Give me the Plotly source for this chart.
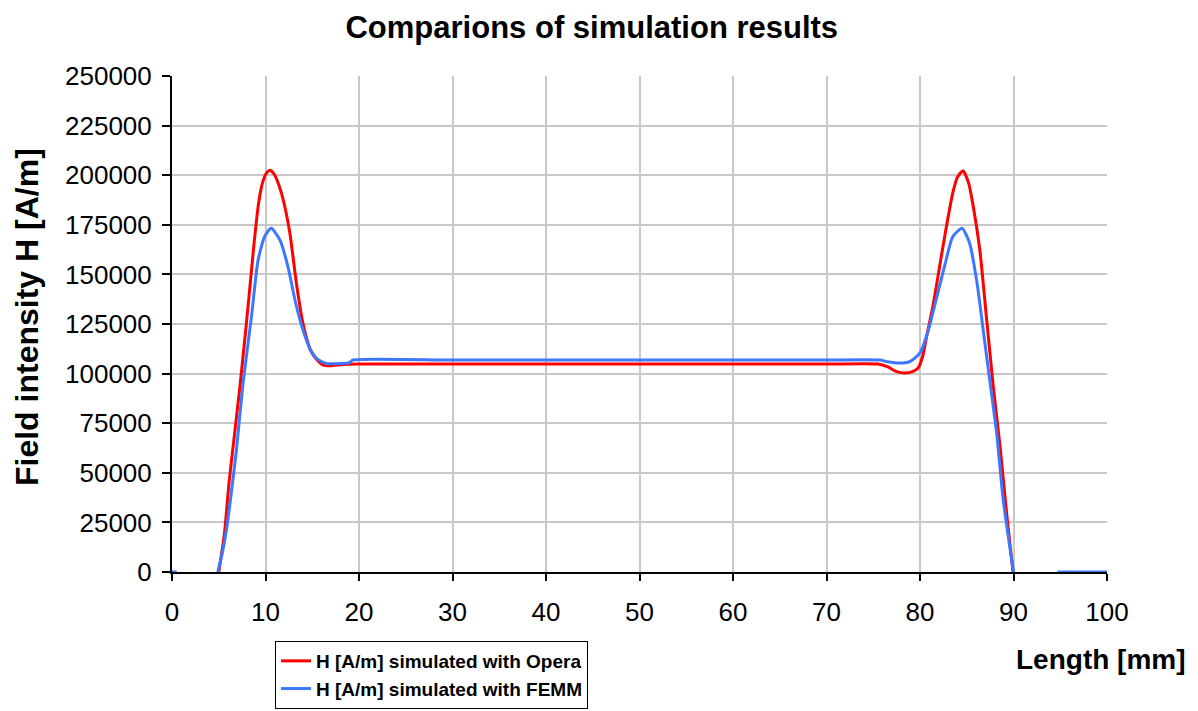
import plotly.graph_objects as go

# Opera simulation: field intensity along the length
opera_x = [5.0, 5.6, 6.1, 6.7, 7.3, 7.8, 8.2, 8.7, 9.1, 9.4, 9.7, 10.1, 10.5, 11.0, 11.5,
           11.9, 12.6, 13.3, 14.0, 14.8, 15.5, 16.2, 17.0, 18.0, 20.0, 30.0, 40.0, 50.0,
           60.0, 70.0, 75.5, 76.5, 77.5, 78.4, 79.2, 79.8, 80.3, 80.7, 81.3, 81.8, 82.7,
           83.5, 84.0, 84.6, 85.2, 85.7, 86.4, 87.1, 87.8, 88.6, 89.3, 89.95]
opera_h = [0, 19000, 45000, 70000, 95000, 118000, 137000, 162000, 180000, 190000, 196500,
           201000, 202500, 200000, 194000, 187500, 171000, 145700, 125500, 112000, 107000,
           104300, 104000, 104500, 104800, 104800, 104800, 104800, 104800, 104800, 104800,
           103500, 101000, 100300, 101000, 102800, 109000, 118600, 132000, 145600, 170800,
           191000, 199000, 202300, 196000, 184100, 162300, 128700, 95200, 61500, 27900, 0]

# FEMM simulation: field intensity along the length
femm_x = [0.0, 0.5, None, 4.9, 5.4, 5.85, 6.5, 6.9, 7.6, 8.5, 9.2, 9.9, 10.6, 11.55, 12.4,
          13.15, 13.9, 14.8, 15.4, 16.0, 16.6, 17.5, 18.5, 19.0, 19.3, 30.0, 40.0, 50.0,
          60.0, 70.0, 75.7, 76.5, 77.7, 78.9, 80.0, 80.9, 81.8, 82.7, 83.5, 84.5, 85.3,
          86.1, 86.8, 87.5, 88.2, 88.9, 90.0, None, 94.7, 100.0]
femm_h = [0, 0, None, 0, 10000, 22000, 46000, 62000, 95200, 128700, 157000, 169000, 173200,
          167300, 153900, 137100, 123600, 112000, 108000, 106000, 105000, 105000, 105200,
          105500, 106800, 106800, 106800, 106800, 106800, 106800, 106800,
          106000, 105300, 106000, 110400, 122000, 138700, 155500, 169000, 173200, 165800,
          145600, 120400, 95200, 70000, 36300, 0, None, 0, 0]

x_ticks = list(range(0, 101, 10))
y_ticks = list(range(0, 250001, 25000))

# plot area in pixels (left, right, top, bottom)
PX_L, PX_R, PX_T, PX_B = 172, 1107, 76, 572
W, H = 1198, 711


def paper_x(px):
    return (px - PX_L) / (PX_R - PX_L)


def paper_y(py):
    return (PX_B - py) / (PX_B - PX_T)


fig = go.Figure()
fig.add_trace(go.Scatter(
    x=opera_x, y=opera_h, mode="lines", name="<b>H [A/m] simulated with Opera</b>",
    line=dict(color="#ff0000", width=3, shape="spline", smoothing=0.6),
    connectgaps=False))
fig.add_trace(go.Scatter(
    x=femm_x, y=femm_h, mode="lines", name="<b>H [A/m] simulated with FEMM</b>",
    line=dict(color="#3c78ff", width=3, shape="spline", smoothing=0.6),
    connectgaps=False))

fig.update_layout(
    width=W, height=H,
    margin=dict(l=PX_L, r=W - PX_R, t=PX_T, b=H - PX_B, autoexpand=False),
    paper_bgcolor="white", plot_bgcolor="white",
    font=dict(family="Liberation Sans, Arial, sans-serif", color="black"),
    title=dict(text="<b>Comparions of simulation results</b>", x=0.494, xanchor="center",
               y=1 - 27 / H, yanchor="middle", font=dict(size=31)),
    showlegend=True,
    legend=dict(x=paper_x(275), y=paper_y(709), xanchor="left", yanchor="bottom",
                bordercolor="black", borderwidth=1, bgcolor="white",
                font=dict(size=19), itemwidth=30),
)
fig.update_xaxes(
    range=[0, 100], tickvals=x_ticks, ticktext=[str(v) for v in x_ticks],
    showgrid=True, gridcolor="#c8c8c8", gridwidth=1.5,
    showline=True, linecolor="black", linewidth=2,
    ticks="outside", ticklen=7, tickwidth=2, tickcolor="black",
    ticklabelstandoff=9,
    tickfont=dict(size=26), zeroline=False)
fig.update_yaxes(
    range=[0, 250000], tickvals=y_ticks, ticktext=[str(v) for v in y_ticks],
    showgrid=True, gridcolor="#c8c8c8", gridwidth=1.5,
    showline=True, linecolor="black", linewidth=2,
    ticks="outside", ticklen=8, tickwidth=2, tickcolor="black",
    ticklabelstandoff=5,
    tickfont=dict(size=26), zeroline=False)

fig.add_annotation(text="<b>Field intensity H [A/m]</b>", xref="paper", yref="paper",
                   x=paper_x(27), y=paper_y(317), textangle=-90,
                   xanchor="center", yanchor="middle", showarrow=False,
                   font=dict(size=32))
fig.add_annotation(text="<b>Length [mm]</b>", xref="paper", yref="paper",
                   x=paper_x(1188), y=paper_y(659),
                   xanchor="right", yanchor="middle", showarrow=False,
                   font=dict(size=28))

fig.write_html("out.html")
